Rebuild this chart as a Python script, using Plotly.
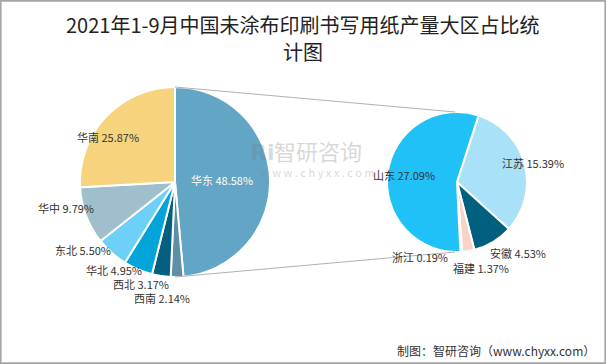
import math
import plotly.graph_objects as go

# ---- data ----
region_names = ["华东", "西南", "西北", "华北", "东北", "华中", "华南"]
region_values = [48.58, 2.14, 3.17, 4.95, 5.50, 9.79, 25.87]
province_names = ["江苏", "安徽", "福建", "浙江", "山东"]
province_values = [15.39, 4.53, 1.37, 0.19, 27.09]

region_colors = ["#62a5c4", "#5e8fa6", "#03607f", "#03a4da", "#6fd0f7", "#a0bfcc", "#f6d37c"]
province_colors = ["#a9e2f8", "#02607f", "#f8d2cb", "#eeeeee", "#1fc1f6"]

W, H = 606, 364
# pie geometry (pixels)
L_CX, L_CY, L_R = 175, 182, 95
R_CX, R_CY, R_R = 457, 182, 70

def dom(cx, cy, r):
    return dict(x=[(cx - r) / W, (cx + r) / W], y=[(H - cy - r) / H, (H - cy + r) / H])

fig = go.Figure()
fig.add_trace(go.Pie(
    labels=region_names, values=region_values, sort=False, direction="clockwise",
    rotation=0, textinfo="none", hoverinfo="label+percent",
    marker=dict(colors=region_colors, line=dict(color="white", width=2)),
    domain=dom(L_CX, L_CY, L_R), showlegend=False,
))
fig.add_trace(go.Pie(
    labels=province_names, values=province_values, sort=False, direction="clockwise",
    rotation=18, textinfo="none", hoverinfo="label+value",
    marker=dict(colors=province_colors, line=dict(color="white", width=2)),
    domain=dom(R_CX, R_CY, R_R), showlegend=False,
))

# label centre positions (pixels) — layout only
left_label_pos = [(222, 180), (162, 298), (141, 284), (114, 270), (83, 250), (66, 208), (108, 137)]
right_label_pos = [(533, 163), (518, 253), (481, 268), (420, 257), (404, 175)]

ann = []
def px(x, y):
    return x / W, 1 - y / H

for i, (n, v) in enumerate(zip(region_names, region_values)):
    x, y = px(*left_label_pos[i])
    ann.append(dict(x=x, y=y, xref="paper", yref="paper", showarrow=False,
                    xanchor="center", yanchor="middle",
                    text=f"{n} {v:.2f}%",
                    font=dict(size=11, color="white" if i == 0 else "#333333",
                              family="Noto Sans CJK SC")))
for i, (n, v) in enumerate(zip(province_names, province_values)):
    x, y = px(*right_label_pos[i])
    ann.append(dict(x=x, y=y, xref="paper", yref="paper", showarrow=False,
                    xanchor="center", yanchor="middle",
                    text=f"{n} {v:.2f}%",
                    font=dict(size=11, color="#333333", family="Noto Sans CJK SC")))

# watermark
for txt, (x0, y0), sz in [("智研咨询", (318, 150), 22), ("w w w . c h y x x . c o m", (318, 172), 11)]:
    x, y = px(x0, y0)
    ann.append(dict(x=x, y=y, xref="paper", yref="paper", showarrow=False, text=txt,
                    xanchor="center", yanchor="middle",
                    font=dict(size=sz, color="rgba(140,140,140,0.35)", family="Noto Sans CJK SC")))
x, y = px(262, 152)
ann.append(dict(x=x, y=y, xref="paper", yref="paper", showarrow=False, text="<b>Ri</b>",
                xanchor="center", yanchor="middle",
                font=dict(size=22, color="rgba(110,130,150,0.3)", family="DejaVu Sans")))

# footer
x, y = px(597, 350)
ann.append(dict(x=x, y=y, xref="paper", yref="paper", showarrow=False, xanchor="right",
                yanchor="middle",
                text="制图：智研咨询（www.chyxx.com）",
                font=dict(size=12, color="#333333", family="Noto Sans CJK SC")))

shapes = []
# connector lines between pies (from geometry)
for sgn in (-1, 1):
    x0, y0 = px(L_CX, L_CY + sgn * L_R)
    x1, y1 = px(R_CX - 2, R_CY + sgn * R_R)
    shapes.append(dict(type="line", xref="paper", yref="paper", x0=x0, y0=y0, x1=x1, y1=y1,
                       line=dict(color="#b0b0b0", width=1)))
# frame
shapes.append(dict(type="rect", xref="paper", yref="paper", x0=0.001, y0=0.002, x1=0.999, y1=0.998,
                   line=dict(color="#a6a6a6", width=2)))

# title as two centred lines
for txt, yy in [("2021年1-9月中国未涂布印刷书写用纸产量大区占比统", 25), ("计图", 52)]:
    x, y = px(303, yy)
    ann.append(dict(x=x, y=y, xref="paper", yref="paper", showarrow=False, text=txt,
                    xanchor="center", yanchor="middle",
                    font=dict(size=20, color="#222222", family="Noto Sans CJK SC")))

fig.update_layout(
    width=W, height=H, margin=dict(l=0, r=0, t=0, b=0),
    paper_bgcolor="white", plot_bgcolor="white",
    annotations=ann, shapes=shapes,
)
fig.write_html("out.html", config={"displayModeBar": False},
               post_script="document.body.style.margin='0px';document.body.style.overflow='hidden';")
